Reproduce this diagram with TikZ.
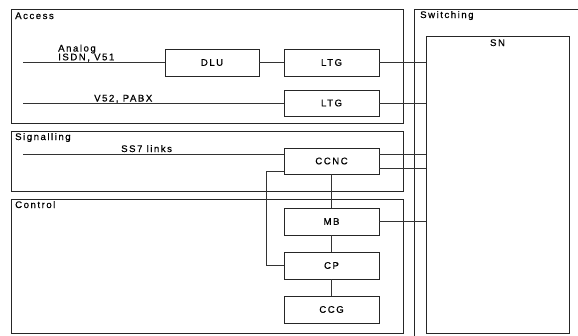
\documentclass[tikz,border=0pt]{standalone}
\usepackage{fontspec}
\setmainfont{Liberation Sans}[LetterSpace=16, FakeBold=0.6]
\begin{document}
\begin{tikzpicture}[x=1pt,y=-1pt,
  box/.style={draw=black!85, line width=0.8pt, minimum width=95pt, minimum height=27pt, inner sep=0pt, font=\fontsize{9.6}{11}\selectfont},
  region/.style={draw=black!85, line width=0.8pt, inner sep=0pt},
  lab/.style={font=\fontsize{9.6}{11}\selectfont, inner sep=0pt},
  wire/.style={line width=0.8pt, draw=black!80}]
\useasboundingbox (0,0) rectangle (578,335);
\clip (0,0) rectangle (578,335);
% regions
\node[region, minimum width=392pt, minimum height=114pt] (access) at (207,66) {};
\node[region, minimum width=392pt, minimum height=60pt] (signalling) at (207,161) {};
\node[region, minimum width=392pt, minimum height=134pt] (control) at (207,266) {};
\draw[region] (414,345) -- (414,9) -- (600,9);
\node[lab, anchor=base west] (laccess) at (15,19) {Access};
\node[lab, anchor=base west] (lsig) at (15,140) {Signalling};
\node[lab, anchor=base west] (lctrl) at (15,208) {Control};
\node[lab, anchor=base west] (lswitch) at (420,18) {Switching};
% boxes
\node[box, minimum width=94pt] (dlu) at (212,62.5) {DLU};
\node[box] (ltg1) at (331.5,62.5) {LTG};
\node[box, minimum height=26pt] (ltg2) at (331.5,103) {LTG};
\node[box, minimum height=26pt] (ccnc) at (331.5,161) {CCNC};
\node[box] (mb) at (331.5,221.5) {MB};
\node[box] (cp) at (331.5,265.5) {CP};
\node[box] (ccg) at (331.5,309.5) {CCG};
\node[box, minimum width=143pt, minimum height=297pt] (sn) at (497.5,184.5) {};
\node[lab, anchor=base] (lsn) at (497.5,46) {SN};
% input lines
\coordinate (in1) at (23,62.5);
\coordinate (in2) at (23,103);
\coordinate (in3) at (23,154);
\coordinate (c2) at (0,168);
\coordinate (loop) at (266,171);
\draw[wire] (in1) -- (dlu.west);
\draw[wire] (dlu.east) -- (ltg1.west);
\draw[wire] (in2) -- (ltg2.west);
\draw[wire] (in3) -- (in3 -| ccnc.west);
\node[lab, anchor=base west] (lanalog) at (58,51.5) {Analog};
\node[lab, anchor=base west] (lisdn) at (58,60.3) {ISDN, V51};
\node[lab, anchor=base west] (lv52) at (94,101.5) {V52, PABX};
\node[lab, anchor=base west] (lss7) at (121,152) {SS7 links};
% to SN
\draw[wire] (ltg1.east) -- (ltg1.east -| sn.west);
\draw[wire] (ltg2.east) -- (ltg2.east -| sn.west);
\draw[wire] (in3 -| ccnc.east) -- (in3 -| sn.west);
\draw[wire] (c2 -| ccnc.east) -- (c2 -| sn.west);
\draw[wire] (mb.east) -- (mb.east -| sn.west);
% control
\draw[wire] (ccnc.south) -- (mb.north);
\draw[wire] (mb.south) -- (cp.north);
\draw[wire] (cp.south) -- (ccg.north);
\draw[wire] (loop -| ccnc.west) -- (loop) |- (cp.west);
\end{tikzpicture}
\end{document}
